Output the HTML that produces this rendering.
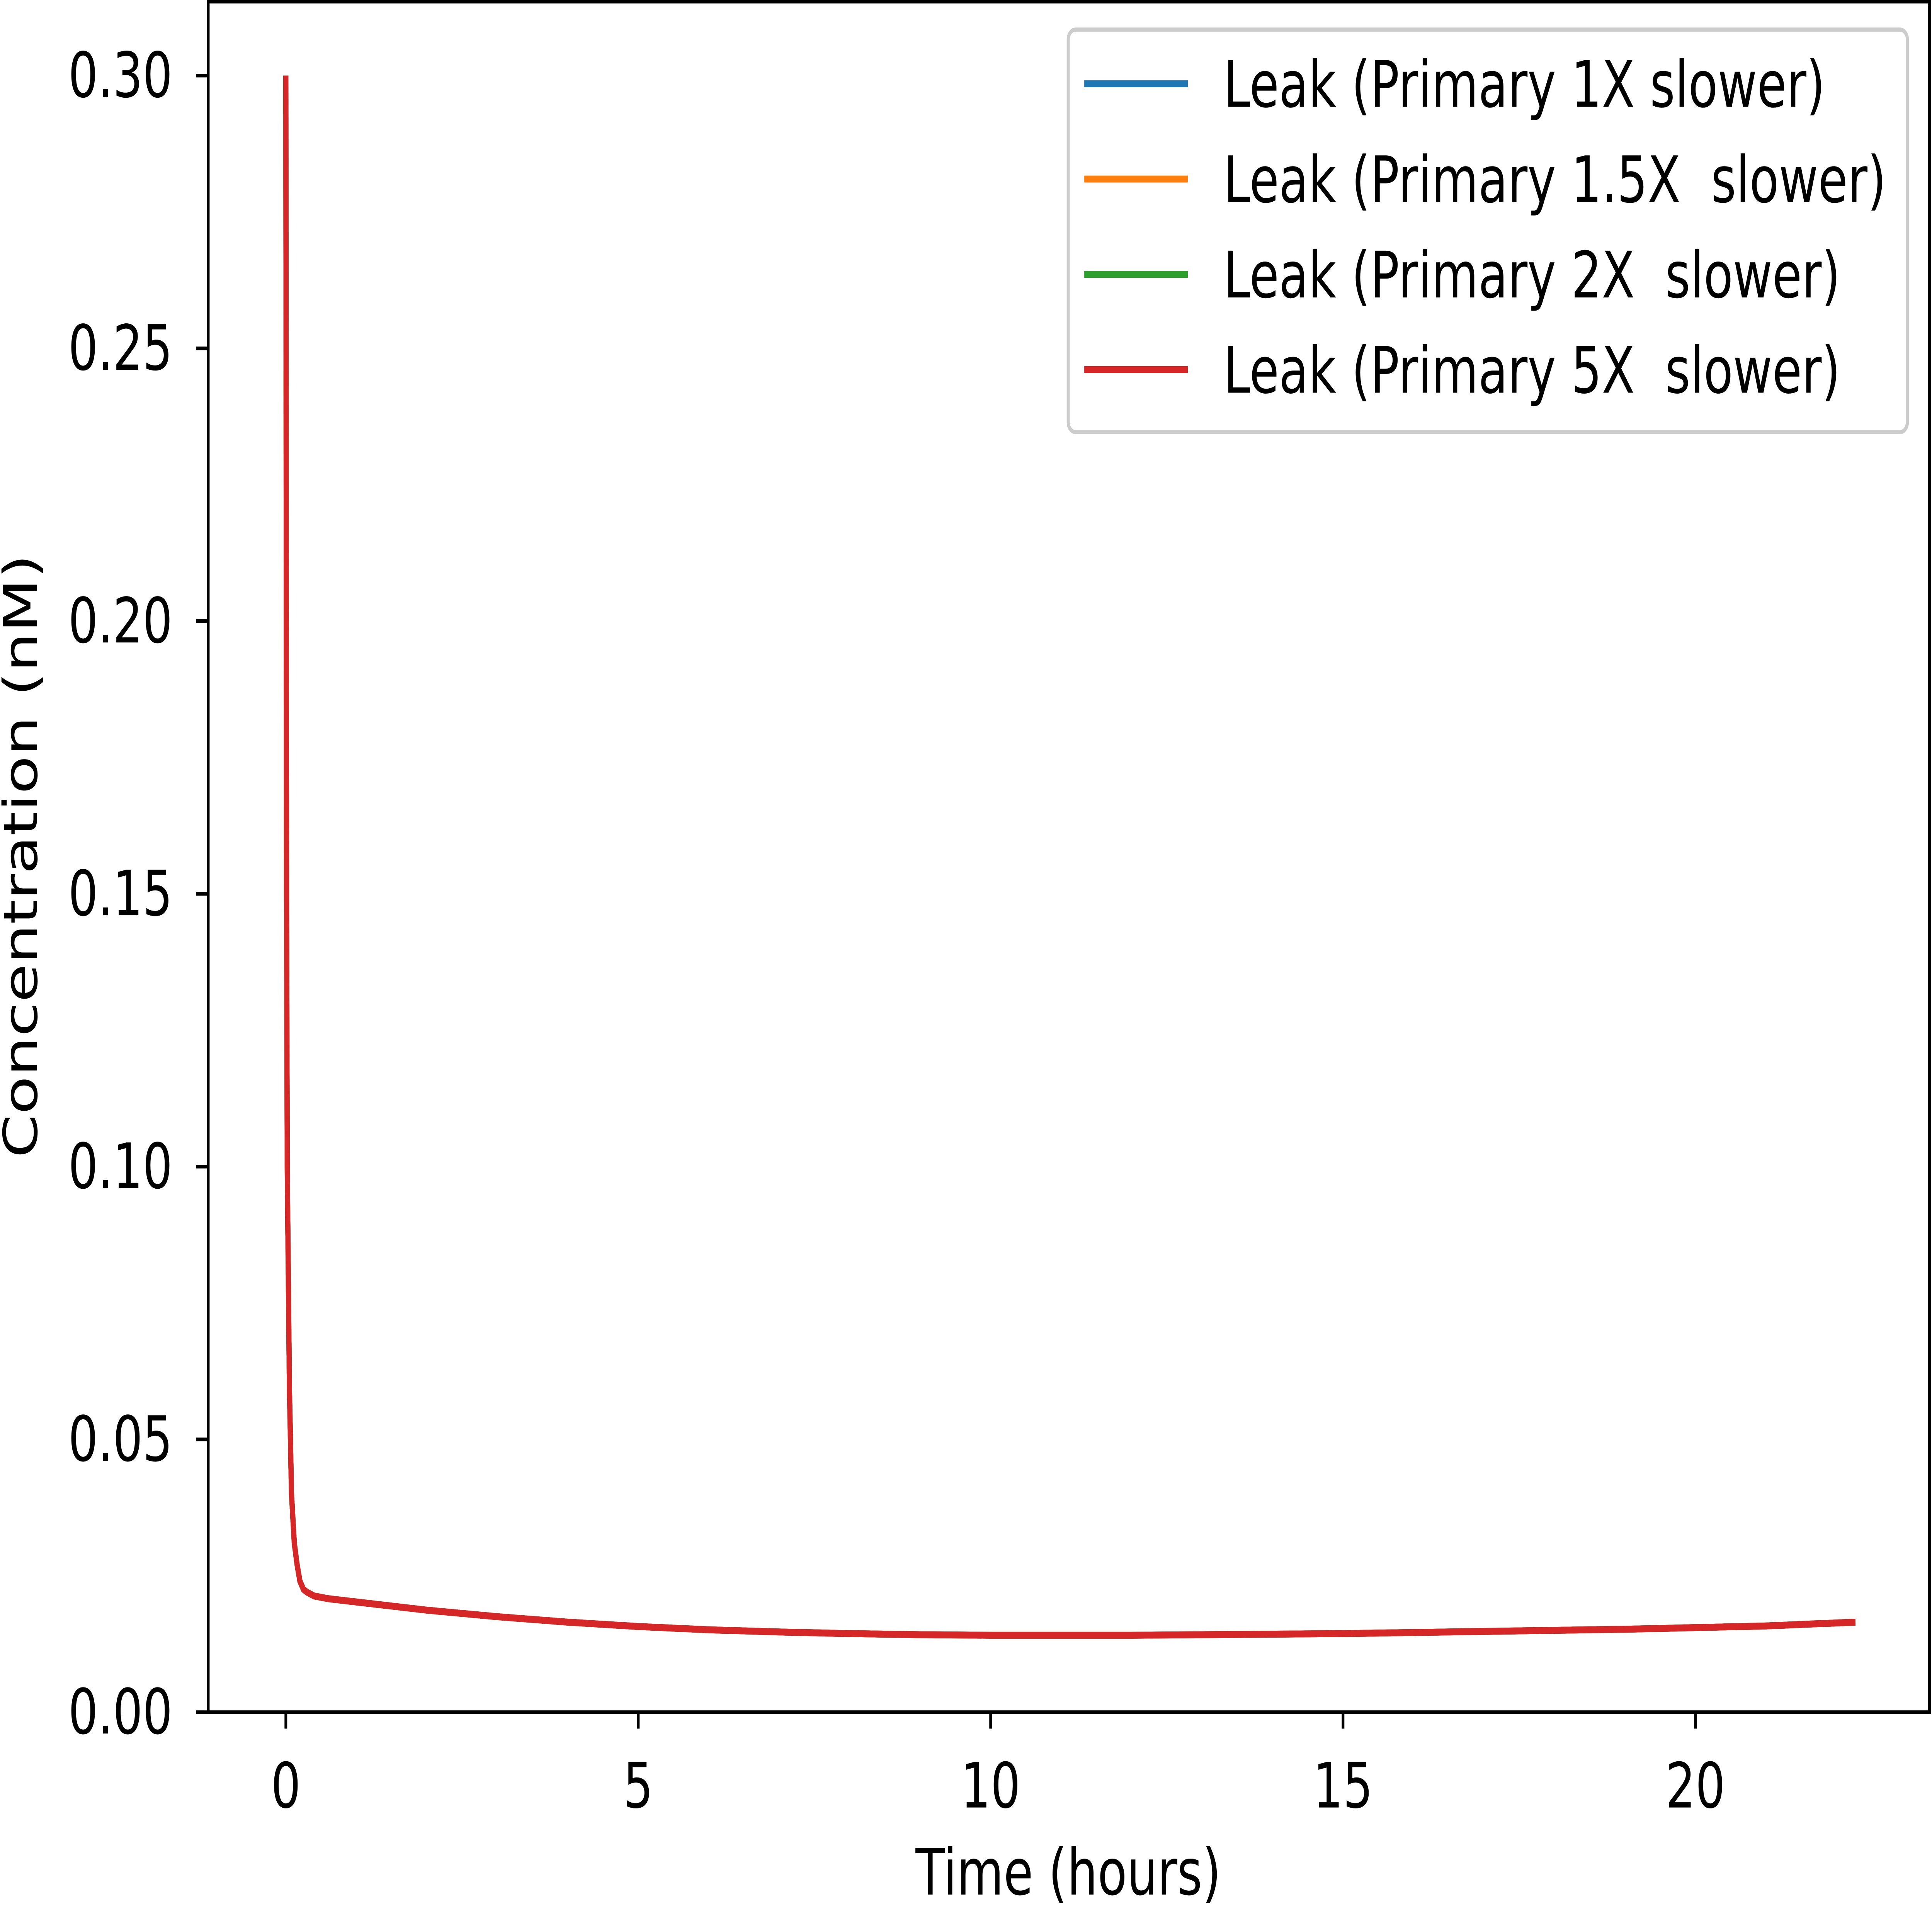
<!DOCTYPE html>
<html><head><meta charset="utf-8"><style>
html,body{margin:0;padding:0;background:#fff;width:100%;height:100%;overflow:hidden;}
svg{display:block;width:100vw;height:100vh;}
text{font-family:"DejaVu Sans","Liberation Sans",sans-serif;fill:#000;}
</style></head><body>
<svg id="chart" viewBox="0 0 1568 1162.4" preserveAspectRatio="none" xmlns="http://www.w3.org/2000/svg">
<rect x="0" y="0" width="1568" height="1162.4" fill="#fff"/>
<g id="plot"></g>
</svg>
<script>
const times = [0, 0.005, 0.01, 0.02, 0.05, 0.08, 0.12, 0.16, 0.2, 0.25, 0.3, 0.4, 0.6, 1, 2, 3, 4, 5, 6, 7, 8, 9, 10, 11, 12, 13, 14, 15, 16, 17, 18, 19, 20, 21, 22.27];
const leak1x = [0.30, 0.22, 0.15, 0.10, 0.06, 0.04, 0.031, 0.027, 0.024, 0.0225, 0.022, 0.0213, 0.0208, 0.0202, 0.0187, 0.0175, 0.0165, 0.0157, 0.0151, 0.0147, 0.0144, 0.0142, 0.0141, 0.0141, 0.0141, 0.0142, 0.0143, 0.0144, 0.0146, 0.0148, 0.015, 0.0152, 0.0155, 0.0158, 0.0165];
const leak15x = leak1x.slice();
const leak2x = leak1x.slice();
const leak5x = leak1x.slice();
const seriesNames = ["Leak (Primary 1X slower)", "Leak (Primary 1.5X  slower)", "Leak (Primary 2X  slower)", "Leak (Primary 5X  slower)"];
const seriesColors = ["#1f77b4", "#ff7f0e", "#2ca02c", "#d62728"];
const xTicks = [0, 5, 10, 15, 20];
const yTicks = [0, 0.05, 0.10, 0.15, 0.20, 0.25, 0.30];
const yTickLabels = ["0.00", "0.05", "0.10", "0.15", "0.20", "0.25", "0.30"];

const NS = "http://www.w3.org/2000/svg";
const g = document.getElementById("plot");
const L = 169, R = 1566, T = 1, B = 1042;
function xs(t){ return 232 + t * 57.2; }
function ys(v){ return B - v * 3320; }
function el(tag, attrs, parent){ const e = document.createElementNS(NS, tag); for (const k in attrs) e.setAttribute(k, attrs[k]); (parent||g).appendChild(e); return e; }

const allSeries = [leak1x, leak15x, leak2x, leak5x];
allSeries.forEach((vals, i) => {
  const d = vals.map((v, j) => (j ? "L" : "M") + xs(times[j]).toFixed(2) + "," + ys(v).toFixed(2)).join(" ");
  const p = el("path", {d: d, fill: "none", stroke: seriesColors[i], "stroke-width": 4.2, "stroke-linejoin": "round"});
  
  
});

const frame = el("rect", {x: L, y: T, width: R - L, height: B - T, fill: "none", stroke: "#000", "stroke-width": 2.2});



xTicks.forEach(t => {
  const tk = el("line", {x1: xs(t), x2: xs(t), y1: B, y2: B + 10, stroke: "#000", "stroke-width": 2.2});
  
  
  const tx = el("text", {x: xs(t), y: B + 58, "text-anchor": "middle", "font-size": 38});
  tx.textContent = String(t);
  
  
});
yTicks.forEach((v, i) => {
  const tk = el("line", {x1: L - 10, x2: L, y1: ys(v), y2: ys(v), stroke: "#000", "stroke-width": 2.2});
  
  
  const tx = el("text", {x: L - 29, y: ys(v) + 13, "text-anchor": "end", "font-size": 38});
  tx.textContent = yTickLabels[i];
  
  
});
const xt = el("text", {x: 867, y: 1153, "text-anchor": "middle", "font-size": 39});
xt.textContent = "Time (hours)";


const yt = el("text", {x: 0, y: 0, "text-anchor": "middle", "font-size": 38, transform: "translate(30,521) rotate(-90)"});
yt.textContent = "Concentration (nM)";



const lg = el("g", {});


const lb = el("rect", {x: 867, y: 18, width: 681, height: 245, rx: 6, fill: "#fff", "fill-opacity": 0.8, stroke: "#ccc", "stroke-width": 2.5}, lg);


seriesNames.forEach((n, i) => {
  const y = 51 + i * 58;
  const ln = el("line", {x1: 880, x2: 964, y1: y, y2: y, stroke: seriesColors[i], "stroke-width": 4.2}, lg);
  
  
  const tx = el("text", {x: 993, y: y + 14, "font-size": 39}, lg);
  tx.style.whiteSpace = "pre";
  tx.textContent = n;
  
  
});
</script>
</body></html>
